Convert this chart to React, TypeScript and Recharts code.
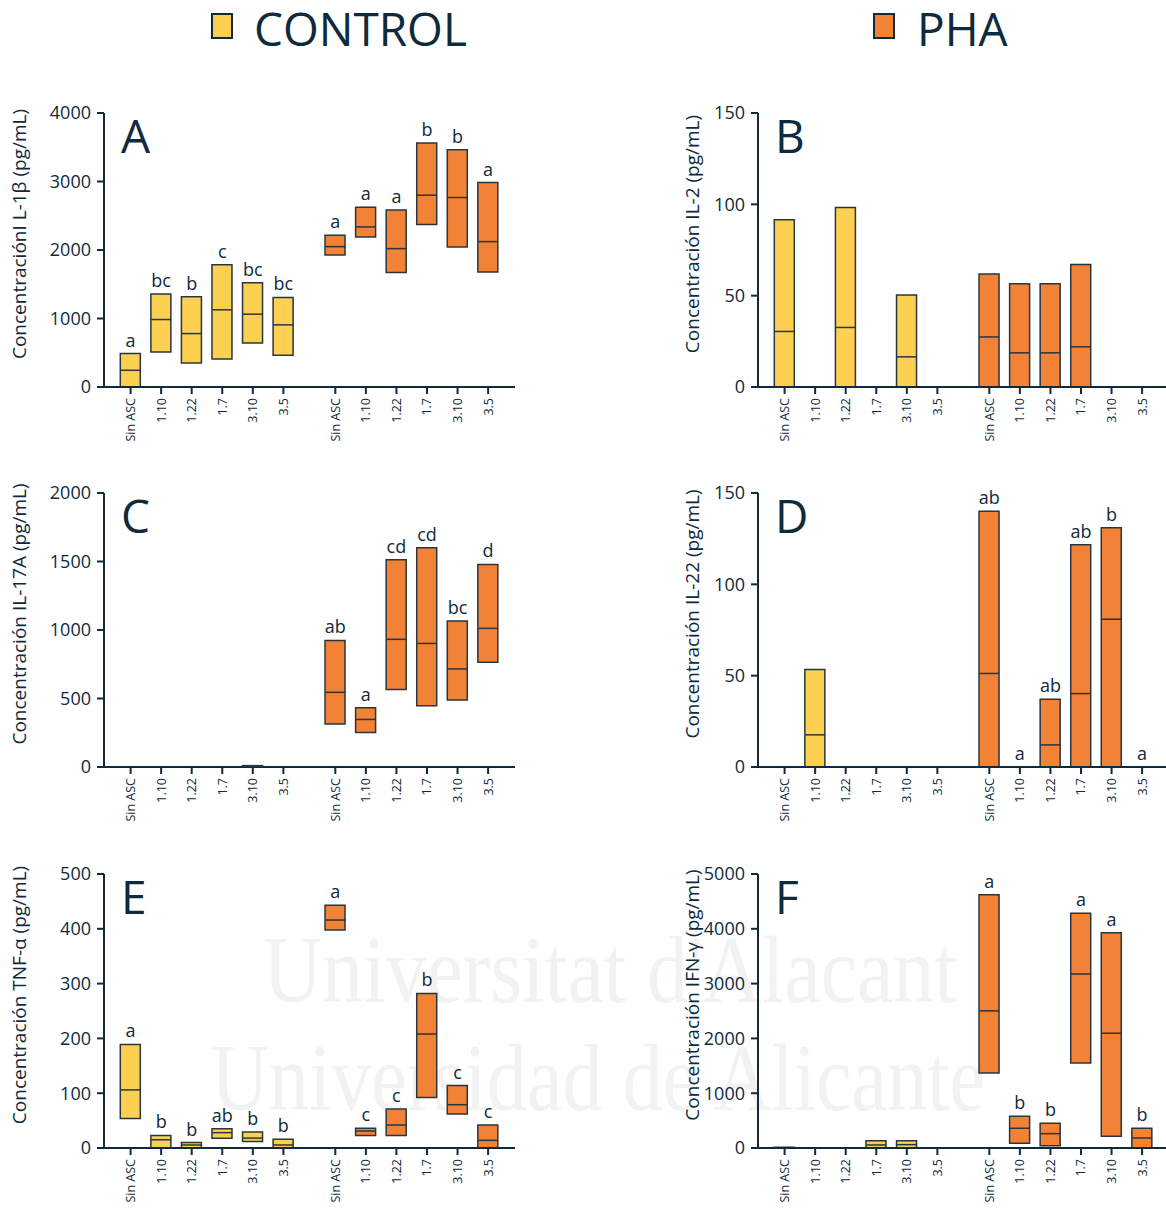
import { Bar, Cell, ComposedChart, Label, Scatter, XAxis, YAxis } from 'recharts'

const NAVY = '#0f2a3b'
const YELLOW = '#fdd052'
const ORANGE = '#f28236'
const EDGE = '#283640'
const FONT = '"Open Sans", "Noto Sans", sans-serif'

const treatments = ['Sin ASC', '1.10', '1.22', '1.7', '3.10', '3.5']
const groups = ['CONTROL', 'PHA']

// values per panel: 6 CONTROL treatments, then 6 PHA treatments (null = no bar)
const il1bLow = [0, 512, 351, 410, 644, 463, 1927, 2190, 1673, 2371, 2044, 1678]
const il1bHigh = [488, 1356, 1317, 1785, 1522, 1307, 2215, 2624, 2585, 3561, 3463, 2985]
const il1bMedian = [244, 985, 780, 1127, 1063, 907, 2049, 2337, 2020, 2800, 2766, 2122]
const il1bLetters = ['a', 'bc', 'b', 'c', 'bc', 'bc', 'a', 'a', 'a', 'b', 'b', 'a']
const il1bTicks = [0, 1000, 2000, 3000, 4000]

const il2Low = [0, null, 0, null, 0, null, 0, 0, 0, 0, null, null]
const il2High = [91.5, null, 98.2, null, 50.3, null, 61.8, 56.5, 56.5, 67.1, null, null]
const il2Median = [30.4, null, 32.6, null, 16.5, null, 27.4, 18.7, 18.7, 22, null, null]
const il2Letters = ['', '', '', '', '', '', '', '', '', '', '', '']
const il2Ticks = [0, 50, 100, 150]

const il17Low = [null, null, null, null, 0, null, 313, 252, 565, 447, 489, 765]
const il17High = [null, null, null, null, 10, null, 924, 433, 1513, 1601, 1066, 1479]
const il17Median = [null, null, null, null, 5, null, 545, 347, 932, 902, 716, 1012]
const il17Letters = ['', '', '', '', '', '', 'ab', 'a', 'cd', 'cd', 'bc', 'd']
const il17Ticks = [0, 500, 1000, 1500, 2000]

const il22Low = [null, 0, null, null, null, null, 0, null, 0, 0, 0, null]
const il22High = [null, 53.4, null, null, null, null, 140, null, 37.1, 121.7, 131, null]
const il22Median = [null, 17.6, null, null, null, null, 51.2, null, 12.1, 40.2, 80.9, null]
const il22Letters = ['', '', '', '', '', '', 'ab', 'a', 'ab', 'ab', 'b', 'a']
const il22Ticks = [0, 50, 100, 150]

const tnfLow = [54, 0, 0, 18, 12, 0, 398, 23, 23, 92, 62, 0]
const tnfHigh = [189, 23, 10, 35, 29, 16, 443, 36, 71, 282, 114, 42]
const tnfMedian = [106, 15, 5.5, 28, 18, 5.5, 416, 31, 42, 208, 79, 14]
const tnfLetters = ['a', 'b', 'b', 'ab', 'b', 'b', 'a', 'c', 'c', 'b', 'c', 'c']
const tnfTicks = [0, 100, 200, 300, 400, 500]

const ifnLow = [0, null, null, 0, 0, null, 1368, 85, 43, 1551, 214, 0]
const ifnHigh = [12, null, null, 134, 134, null, 4622, 580, 452, 4286, 3926, 360]
const ifnMedian = [null, null, null, 55, 61, null, 2503, 360, 262, 3175, 2094, 183]
const ifnLetters = ['', '', '', '', '', '', 'a', 'b', 'b', 'a', 'a', 'b']
const ifnTicks = [0, 1000, 2000, 3000, 4000, 5000]

// layout
const GROUP_GAP = 0.7
const PLOT_TOP = 53
const PLOT_H = 274
const AXIS_W = 104
const CHART_W = 515
const CHART_H = PLOT_TOP + PLOT_H + 60

const positions = groups.flatMap((_, g) => treatments.map((_, t) => t + g * (treatments.length + GROUP_GAP)))

function labelFor(value: number) {
  const idx = positions.findIndex((p) => Math.abs(p - value) < 0.01)
  return idx < 0 ? '' : treatments[idx % treatments.length]
}

function XTick(props: any) {
  const { x, y, payload } = props
  return (
    <text
      transform={`translate(${x + 4.5},${y + 2}) rotate(-90)`}
      textAnchor="end"
      fontSize={12.5}
      fontFamily={FONT}
      fill={NAVY}
    >
      {labelFor(payload.value)}
    </text>
  )
}

function MedianMark(props: any) {
  const { cx, cy } = props
  if (cx == null || cy == null) return null
  return <line x1={cx - 10} x2={cx + 10} y1={cy} y2={cy} stroke={EDGE} strokeWidth={1.5} />
}

function LetterMark(props: any) {
  const { cx, cy, payload } = props
  if (cx == null || cy == null) return null
  return (
    <text x={cx} y={cy - 7} textAnchor="middle" fontSize={18} fontFamily={FONT} fill={NAVY}>
      {payload.letter}
    </text>
  )
}

type PanelProps = {
  low: (number | null)[]
  high: (number | null)[]
  median: (number | null)[]
  letters: string[]
  ticks: number[]
  yLabel: string
  labelX: number
  left: number
  top: number
}

function Panel({ low, high, median, letters, ticks, yLabel, labelX, left, top }: PanelProps) {
  const rows = positions.map((x, i) => ({
    x,
    group: i < treatments.length ? 0 : 1,
    range: low[i] == null ? null : [low[i], high[i]],
    median: median[i],
    letter: letters[i],
    top: high[i] ?? 0,
  }))
  const medianRows = rows.filter((r) => r.median != null)
  const letterRows = rows.filter((r) => r.letter !== '')
  const labelY = PLOT_TOP + PLOT_H / 2 - 16

  return (
    <div style={{ position: 'absolute', left, top }}>
      <ComposedChart
        width={CHART_W}
        height={CHART_H}
        data={rows}
        margin={{ top: PLOT_TOP, right: 0, bottom: 0, left: 0 }}
      >
        <XAxis
          dataKey="x"
          type="number"
          domain={[-0.87, 12.58]}
          ticks={positions}
          allowDataOverflow
          height={60}
          tickSize={7}
          tickMargin={2}
          axisLine={{ stroke: NAVY, strokeWidth: 2 }}
          tickLine={{ stroke: NAVY, strokeWidth: 2 }}
          tick={<XTick />}
          interval={0}
        />
        <YAxis
          type="number"
          domain={[0, ticks[ticks.length - 1]]}
          ticks={ticks}
          width={AXIS_W}
          tickSize={7}
          tickMargin={6}
          interval={0}
          axisLine={{ stroke: NAVY, strokeWidth: 2 }}
          tickLine={{ stroke: NAVY, strokeWidth: 2 }}
          tick={{ fontSize: 18, fill: NAVY, fontFamily: FONT }}
        >
          <Label
            content={() => (
              <text
                x={labelX}
                y={labelY}
                transform={`rotate(-90, ${labelX}, ${labelY})`}
                textAnchor="middle"
                fontSize={19}
                fontFamily={FONT}
                fill={NAVY}
              >
                {yLabel}
              </text>
            )}
          />
        </YAxis>
        <Bar dataKey="range" barSize={20} stroke={EDGE} strokeWidth={1.5} isAnimationActive={false}>
          {rows.map((r, i) => (
            <Cell key={i} fill={r.group === 0 ? YELLOW : ORANGE} />
          ))}
        </Bar>
        <Scatter data={medianRows} dataKey="median" shape={<MedianMark />} isAnimationActive={false} />
        <Scatter data={letterRows} dataKey="top" shape={<LetterMark />} isAnimationActive={false} />
      </ComposedChart>
    </div>
  )
}

const LEFT_X = 0
const RIGHT_X = 654
const ROW_TOPS = [60, 440, 821]

const panelLetters = ['A', 'B', 'C', 'D', 'E', 'F']

export default function App() {
  return (
    <div
      style={{
        position: 'absolute',
        left: 0,
        top: 0,
        width: 1166,
        height: 1212,
        overflow: 'hidden',
        background: '#fff',
        fontFamily: FONT,
      }}
    >
      <svg width={1166} height={1212} style={{ position: 'absolute', left: 0, top: 0 }}>
        <text
          x={263}
          y={1002}
          textLength={694}
          lengthAdjust="spacingAndGlyphs"
          fontSize={96}
          fontFamily='"Liberation Serif", serif'
          fill="#f2f2f2"
        >
          Universitat d'Alacant
        </text>
        <text
          x={211}
          y={1110}
          textLength={774}
          lengthAdjust="spacingAndGlyphs"
          fontSize={96}
          fontFamily='"Liberation Serif", serif'
          fill="#f2f2f2"
        >
          Universidad de Alicante
        </text>

        <rect x={212} y={14} width={20} height={24} fill={YELLOW} stroke={NAVY} strokeWidth={2} />
        <text x={254} y={46} fontSize={46} fill={NAVY} fontFamily={FONT}>
          {groups[0]}
        </text>
        <rect x={874} y={14} width={20} height={24} fill={ORANGE} stroke={NAVY} strokeWidth={2} />
        <text x={917} y={46} fontSize={46} fill={NAVY} fontFamily={FONT}>
          {groups[1]}
        </text>

        {panelLetters.map((l, i) => (
          <text
            key={l}
            x={(i % 2 === 0 ? LEFT_X : RIGHT_X) + 121}
            y={ROW_TOPS[Math.floor(i / 2)] + PLOT_TOP + 40}
            fontSize={46}
            fill={NAVY}
            fontFamily={FONT}
          >
            {l}
          </text>
        ))}
      </svg>

      <Panel low={il1bLow} high={il1bHigh} median={il1bMedian} letters={il1bLetters} ticks={il1bTicks}
        yLabel="ConcentraciónI L-1β (pg/mL)" labelX={26} left={LEFT_X} top={ROW_TOPS[0]} />
      <Panel low={il2Low} high={il2High} median={il2Median} letters={il2Letters} ticks={il2Ticks}
        yLabel="Concentración IL-2 (pg/mL)" labelX={45} left={RIGHT_X} top={ROW_TOPS[0]} />
      <Panel low={il17Low} high={il17High} median={il17Median} letters={il17Letters} ticks={il17Ticks}
        yLabel="Concentración IL-17A (pg/mL)" labelX={26} left={LEFT_X} top={ROW_TOPS[1]} />
      <Panel low={il22Low} high={il22High} median={il22Median} letters={il22Letters} ticks={il22Ticks}
        yLabel="Concentración IL-22 (pg/mL)" labelX={45} left={RIGHT_X} top={ROW_TOPS[1]} />
      <Panel low={tnfLow} high={tnfHigh} median={tnfMedian} letters={tnfLetters} ticks={tnfTicks}
        yLabel="Concentración TNF-α (pg/mL)" labelX={26} left={LEFT_X} top={ROW_TOPS[2]} />
      <Panel low={ifnLow} high={ifnHigh} median={ifnMedian} letters={ifnLetters} ticks={ifnTicks}
        yLabel="Concentración IFN-γ (pg/mL)" labelX={45} left={RIGHT_X} top={ROW_TOPS[2]} />
    </div>
  )
}
